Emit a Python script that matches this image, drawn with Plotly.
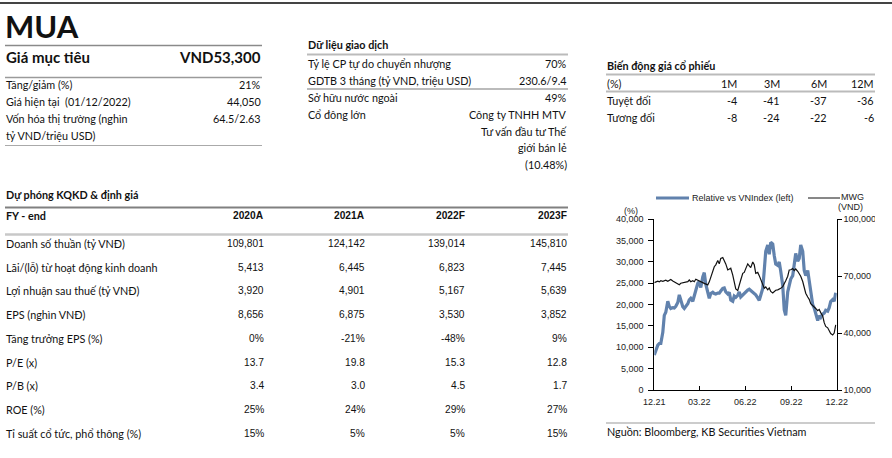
import plotly.graph_objects as go

W, H = 892, 458

# ---------------- data ----------------
rating = "MUA"
target_label = "Giá mục tiêu"
target_value = "VND53,300"
summary_labels = ["Tăng/giảm (%)", "Giá hiện tại  (01/12/2022)", "Vốn hóa thị trường (nghìn", "tỷ VND/triệu USD)"]
summary_values = ["21%", "44,050", "64.5/2.63", ""]

trading_title = "Dữ liệu giao dịch"
trading_labels = ["Tỷ lệ CP tự do chuyển nhượng", "GDTB 3 tháng (tỷ VND, triệu USD)", "Sở hữu nước ngoài", "Cổ đông lớn", "", "", ""]
trading_values = ["70%", "230.6/9.4", "49%", "Công ty TNHH MTV", "Tư vấn đầu tư Thế", "giới bán lẻ", "(10.48%)"]

perf_title = "Biến động giá cổ phiếu"
perf_periods = ["1M", "3M", "6M", "12M"]
perf_abs = [-4, -41, -37, -36]
perf_rel = [-8, -24, -22, -6]

fc_title = "Dự phóng KQKD & định giá"
fc_years = ["2020A", "2021A", "2022F", "2023F"]
fc_labels = ["Doanh số thuần (tỷ VNĐ)", "Lãi/(lỗ) từ hoạt động kinh doanh", "Lợi nhuận sau thuế (tỷ VNĐ)",
             "EPS (nghìn VNĐ)", "Tăng trưởng EPS (%)", "P/E (x)", "P/B (x)", "ROE (%)", "Tỉ suất cổ tức, phổ thông (%)"]
fc_2020A = ["109,801", "5,413", "3,920", "8,656", "0%", "13.7", "3.4", "25%", "15%"]
fc_2021A = ["124,142", "6,445", "4,901", "6,875", "-21%", "19.8", "3.0", "24%", "5%"]
fc_2022F = ["139,014", "6,823", "5,167", "3,530", "-48%", "15.3", "4.5", "29%", "5%"]
fc_2023F = ["145,810", "7,445", "5,639", "3,852", "9%", "12.8", "1.7", "27%", "15%"]

dates = ["2021-12-01", "2021-12-04", "2021-12-08", "2021-12-11", "2021-12-14", "2021-12-18", "2021-12-21",
         "2021-12-24", "2021-12-28", "2021-12-31", "2022-01-03", "2022-01-07", "2022-01-10", "2022-01-13",
         "2022-01-17", "2022-01-20", "2022-01-23", "2022-01-27", "2022-01-30", "2022-02-02", "2022-02-06",
         "2022-02-09", "2022-02-12", "2022-02-16", "2022-02-19", "2022-02-22", "2022-02-26", "2022-03-01",
         "2022-03-04", "2022-03-08", "2022-03-11", "2022-03-14", "2022-03-18", "2022-03-21", "2022-03-24",
         "2022-03-28", "2022-03-31", "2022-04-03", "2022-04-07", "2022-04-10", "2022-04-13", "2022-04-17",
         "2022-04-20", "2022-04-23", "2022-04-27", "2022-04-30", "2022-05-03", "2022-05-07", "2022-05-10",
         "2022-05-13", "2022-05-17", "2022-05-20", "2022-05-23", "2022-05-27", "2022-05-30", "2022-06-02",
         "2022-06-06", "2022-06-09", "2022-06-12", "2022-06-16", "2022-06-19", "2022-06-22", "2022-06-26",
         "2022-06-29", "2022-07-02", "2022-07-06", "2022-07-09", "2022-07-12", "2022-07-16", "2022-07-19",
         "2022-07-22", "2022-07-26", "2022-07-29", "2022-08-01", "2022-08-05", "2022-08-08", "2022-08-11",
         "2022-08-15", "2022-08-18", "2022-08-21", "2022-08-25", "2022-08-28", "2022-08-31", "2022-09-04",
         "2022-09-07", "2022-09-10", "2022-09-14", "2022-09-17", "2022-09-20", "2022-09-24", "2022-09-27",
         "2022-09-30", "2022-10-04", "2022-10-07", "2022-10-10", "2022-10-14", "2022-10-17", "2022-10-20",
         "2022-10-24", "2022-10-27", "2022-10-30", "2022-11-03", "2022-11-06", "2022-11-09", "2022-11-13",
         "2022-11-16", "2022-11-19", "2022-11-23", "2022-11-26", "2022-11-29"]

relative_vnindex = [8200, 9400, 10500, 10900, 10900, 13500, 17500, 18200, 20800, 19600,
                    19100, 19300, 19200, 19600, 20500, 22300, 21000, 19500, 19100, 19600,
                    20200, 21100, 21500, 20800, 22300, 23000, 25000, 25400, 24000, 26500,
                    27500, 24800, 22800, 21500, 22600, 22900, 22600, 22500, 22700, 22700,
                    23200, 23800, 23900, 23000, 22500, 22900, 21100, 20800, 22000, 21700,
                    22200, 23000, 21800, 22300, 22700,
                    23000, 23400, 23600, 23300, 22800, 22600, 22300, 21600, 21000, 22200,
                    23800, 28000, 32500, 34000, 31800, 34600, 34200, 31500, 29500, 29200,
                    30000, 27800, 24500, 18800, 17500, 23000, 24500, 26000, 26800, 29000,
                    32000, 30200, 30800, 34000, 32500, 28000, 26800, 28000, 25500, 22000,
                    20000, 19200, 17800, 16300, 17400, 17000, 17800, 18000, 18700, 18500,
                    19300, 20700, 21200, 20800, 22800]

mwg_price = [66600, 67000, 67400, 67000, 67600, 67300, 67500, 67900, 67300, 67800,
             68300, 67500, 67000, 66600, 66000, 65500, 66300, 66600, 66800, 67000,
             67100, 68000, 67100, 67600, 67100, 68400, 68000, 67500, 67100, 66600,
             66200, 65900, 65400, 67000, 69500, 72000, 75000, 76000, 78300, 76500,
             79400, 79800, 78200, 76500, 73300, 73600, 74200, 70600, 66800, 63300,
             62500, 65800, 68000, 71500, 72000,
             74000, 76500, 75500, 74500, 77500, 76000, 71500, 72000, 70300, 68500,
             65500, 63600, 64300, 62800, 63800, 62000, 61200, 61800, 62600, 62800,
             63100, 63600, 64500, 66500, 67600, 70000, 73300, 73400, 74000, 73000,
             73800, 72600, 71500, 70000, 67200, 63500, 61000, 59000, 57800, 55500,
             54500, 54200, 53000, 51800, 52500, 50800, 49000, 45500, 43500, 42800,
             41500, 39800, 39000, 40000, 44300]

x_tickvals = ["2021-12-01", "2022-03-01", "2022-06-01", "2022-09-01", "2022-12-01"]
x_ticktext = ["12.21", "03.22", "06.22", "09.22", "12.22"]
left_ticks = [0, 5000, 10000, 15000, 20000, 25000, 30000, 35000, 40000]
right_ticks = [10000, 40000, 70000, 100000]
source_text = "Nguồn: Bloomberg, KB Securities Vietnam"

# ---------------- styling ----------------
CAL = "Lato, 'Noto Sans', sans-serif"
TAH = "'Liberation Sans', Arial, sans-serif"
NARROW = "'Liberation Sans Narrow', 'Arial Narrow', 'Liberation Sans', sans-serif"
TXT = "#111111"
BLUE = "#6182ad"
BODY = 10.8
NUM = 10.2


def px(x):
    return x / W


def py(y):
    return 1 - y / H


annotations = []
shapes = []


def text(x, y, s, anchor="left", size=BODY, family=CAL, bold=False, color=TXT):
    if bold:
        s = "<b>" + s + "</b>"
    annotations.append(dict(x=px(x), y=py(y), xref="paper", yref="paper", text=s, showarrow=False,
                            xanchor=anchor, yanchor="middle", borderpad=0,
                            font=dict(family=family, size=size, color=color)))


def hline(x0, x1, y, color="#999999", width=1.5):
    shapes.append(dict(type="line", xref="paper", yref="paper", x0=px(x0), x1=px(x1), y0=py(y), y1=py(y),
                       line=dict(color=color, width=width)))


# top rule
hline(0, W, 3, "#444444", 2)

# block 1
text(4, 26, rating, size=31, bold=True)
hline(5, 262, 45.5, "#8a8a8a", 1.5)
text(5, 57.5, target_label, size=15, bold=True)
text(262, 57.5, target_value, anchor="right", size=15, bold=True)
hline(5, 262, 77.5, "#9a9a9a", 1.5)
rows_y1 = [85, 101.5, 118.5, 135.5]
for lab, val, yy in zip(summary_labels, summary_values, rows_y1):
    text(5, yy, lab)
    if val:
        text(262, yy, val, anchor="right")
hline(5, 262, 145.5, "#aaaaaa", 1.2)

# block 2
text(307, 45, trading_title, bold=True)
hline(307, 568, 54.5, "#bbbbbb", 2)
rows_y2 = [63.5, 80.5, 97.5, 114, 131, 147.5, 164.5]
for lab, val, yy in zip(trading_labels, trading_values, rows_y2):
    if lab:
        text(307, yy, lab)
    text(568, yy, val, anchor="right")
hline(307, 568, 89, "#bbbbbb", 2)

# block 3
text(606, 65, perf_title, bold=True)
hline(606, 875, 74.5, "#bbbbbb", 2)
perf_x = [737.5, 781, 827.5, 874.5]
text(606, 83.5, "(%)")
for p, xx in zip(perf_periods, perf_x):
    text(xx, 83.5, p, anchor="right")
hline(606, 875, 91.5, "#bbbbbb", 2)
text(606, 100.5, "Tuyệt đối")
text(606, 117.5, "Tương đối")
for a, r, xx in zip(perf_abs, perf_rel, perf_x):
    text(xx, 100.5, str(a), anchor="right")
    text(xx, 117.5, str(r), anchor="right")

# block 4 : forecast table
text(5, 195, fc_title, bold=True)
hline(5, 568, 207.5, "#808080", 2)
col_x = [265, 366, 466, 568]
text(5, 215.5, "FY - end", bold=True)
for yr, xx in zip(fc_years, col_x):
    text(xx, 215.5, yr, anchor="right", size=NUM, family=TAH, bold=True)
hline(5, 568, 234.5, "#c8c8c8", 2.5)
rows_y4 = [243.5, 267, 290.5, 314.5, 338.5, 362, 385.5, 409.5, 433]
for i, yy in enumerate(rows_y4):
    text(5, yy, fc_labels[i])
    for col, xx in zip([fc_2020A, fc_2021A, fc_2022F, fc_2023F], col_x):
        text(xx, yy, col[i], anchor="right", size=NUM, family=TAH)

# chart legend and labels
shapes.append(dict(type="line", xref="paper", yref="paper", x0=px(656), x1=px(689), y0=py(198), y1=py(198),
                   line=dict(color=BLUE, width=3)))
text(691, 197.5, "Relative vs VNIndex (left)", size=9, family=NARROW, color="#222222")
shapes.append(dict(type="line", xref="paper", yref="paper", x0=px(808), x1=px(840), y0=py(198), y1=py(198),
                   line=dict(color="#111111", width=1)))
text(852.5, 196.5, "MWG", anchor="center", size=9, family=NARROW, color="#222222")
text(850.5, 207, "(VND)", anchor="center", size=9, family=NARROW, color="#222222")
text(631, 210.5, "(%)", anchor="center", size=9, family=NARROW, color="#222222")

# source
hline(606, 875, 423, "#9a9a9a", 1.2)
text(606, 431.5, source_text)

# clip right edge of chart (right tick label cut in reference)
shapes.append(dict(type="rect", xref="paper", yref="paper", x0=px(875), x1=px(892), y0=py(228), y1=py(212),
                   fillcolor="white", line=dict(width=0), layer="above"))

fig = go.Figure()
fig.add_trace(go.Scatter(x=dates, y=relative_vnindex, mode="lines", name="Relative vs VNIndex (left)",
                         line=dict(color=BLUE, width=3.2), yaxis="y"))
fig.add_trace(go.Scatter(x=dates, y=mwg_price, mode="lines", name="MWG (VND)",
                         line=dict(color="#111111", width=1.2), yaxis="y2"))

tickfont = dict(family=TAH, size=9, color="#222222")
fig.update_layout(
    width=W, height=H, margin=dict(l=0, r=0, t=0, b=0, pad=0, autoexpand=False),
    paper_bgcolor="white", plot_bgcolor="white", showlegend=False,
    annotations=annotations, shapes=shapes,
    xaxis=dict(domain=[px(654.3), px(836.7)], type="date", range=["2021-12-01", "2022-12-01"],
               tickvals=x_tickvals, ticktext=x_ticktext, showgrid=False, zeroline=False, automargin=False,
               showline=True, linecolor="#000000", linewidth=1, ticks="inside", ticklen=4,
               tickcolor="#000000", tickfont=tickfont, ticklabelstandoff=3, anchor="y"),
    yaxis=dict(domain=[py(390), py(219.3)], range=[0, 40000], tickvals=left_ticks, tickformat=",d",
               showgrid=False, zeroline=False, showline=True, linecolor="#000000", linewidth=1, automargin=False,
               ticks="outside", ticklen=5, tickcolor="#000000", tickfont=tickfont, ticklabelstandoff=3),
    yaxis2=dict(domain=[py(390), py(219.3)], range=[10000, 100000], tickvals=right_ticks, tickformat=",d",
                overlaying="y", side="right", anchor="x", showgrid=False, zeroline=False, showline=True,
                automargin=False, linecolor="#000000", linewidth=1, ticks="outside", ticklen=4,
                tickcolor="#000000", tickfont=tickfont),
)

fig.write_html("out.html", config={"displayModeBar": False},
               post_script="document.body.style.margin='0';document.body.style.overflow='hidden';")
